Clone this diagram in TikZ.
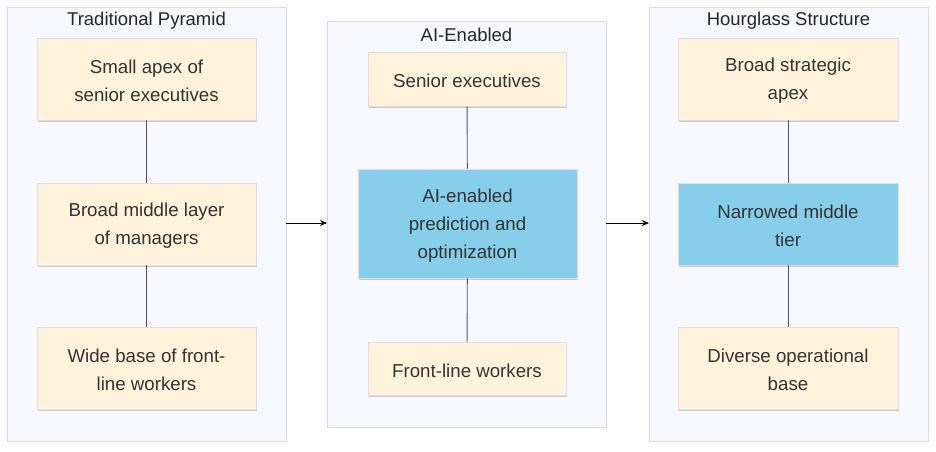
\documentclass[tikz,border=0pt]{standalone}
\usepackage{fontspec}
\setmainfont{Liberation Sans}
\usetikzlibrary{arrows.meta,shadows}
\definecolor{clfill}{HTML}{F7F8FD}
\definecolor{clborder}{HTML}{E2D6EE}
\definecolor{ndfill}{HTML}{FFF3DC}
\definecolor{ndborder}{HTML}{E8D8EC}
\definecolor{bluefill}{HTML}{87CEEB}
\definecolor{txt}{HTML}{333333}
\definecolor{edge}{HTML}{555555}
\tikzset{
  cluster/.style={draw=clborder, fill=clfill, line width=0.8pt},
  boxnode/.style={draw=ndborder, fill=ndfill, line width=0.8pt,
    drop shadow={shadow xshift=1.2pt, shadow yshift=-1.5pt, opacity=0.18, fill=black},
    inner sep=0pt},
  bluenode/.style={boxnode, fill=bluefill},
  boxtext/.style={text=txt, align=center, inner sep=0pt, yshift=-2pt,
    font=\fontsize{18.7}{28}\selectfont},
  title/.style={text=black!85, font=\fontsize{18.5}{20}\selectfont, anchor=center},
  link/.style={draw=edge, line width=0.9pt},
  flow/.style={draw=black, line width=0.9pt, -{Stealth[length=7pt,width=6pt]}},
}
\begin{document}
\begin{tikzpicture}[x=1pt,y=-1pt]
\useasboundingbox (0,0) rectangle (936,451);
% clusters
\path[cluster] (7,7) rectangle (286,441);
\path[cluster] (327,21) rectangle (606,427);
\path[cluster] (649,7) rectangle (928,441);
\node[title] (t1) at (146.5,21) {Traditional Pyramid};
\node[title] (t2) at (466.5,35) {AI-Enabled};
\node[title] (t3) at (788.5,21) {Hourglass Structure};
% anchors for cluster edges
\coordinate (c1r) at (286,223);
\coordinate (c2l) at (327,223);
\coordinate (c2r) at (606,223);
\coordinate (c3l) at (649,223);
% column 1
\node[boxnode, minimum width=219pt, minimum height=82pt] (a1) at (146.5,79) {};
\node[boxnode, minimum width=219pt, minimum height=82pt] (a2) at (146.5,224) {};
\node[boxnode, minimum width=219pt, minimum height=82pt] (a3) at (146.5,368) {};
% column 2
\node[boxnode, minimum width=198pt, minimum height=54pt] (b1) at (467,79) {};
\node[bluenode, minimum width=219pt, minimum height=109pt] (b2) at (467.5,223.5) {};
\node[boxnode, minimum width=198pt, minimum height=53pt] (b3) at (467,368.5) {};
% column 3
\node[boxnode, minimum width=220pt, minimum height=82pt] (c1) at (788,79) {};
\node[bluenode, minimum width=220pt, minimum height=82pt] (c2) at (788,224) {};
\node[boxnode, minimum width=220pt, minimum height=82pt] (c3) at (788,368) {};
% texts
\node[boxtext] (a1t) at (a1.center) {Small apex of\\senior executives};
\node[boxtext] (a2t) at (a2.center) {Broad middle layer\\of managers};
\node[boxtext] (a3t) at (a3.center) {Wide base of front-\\line workers};
\node[boxtext] (b1t) at (b1.center) {Senior executives};
\node[boxtext] (b2t) at (b2.center) {AI-enabled\\prediction and\\optimization};
\node[boxtext] (b3t) at (b3.center) {Front-line workers};
\node[boxtext] (c1t) at (c1.center) {Broad strategic\\apex};
\node[boxtext] (c2t) at (c2.center) {Narrowed middle\\tier};
\node[boxtext] (c3t) at (c3.center) {Diverse operational\\base};
% links
\draw[link] (a1) -- (a2);
\draw[link] (a2) -- (a3);
\draw[link] (b1) -- (b2);
\draw[link] (b2) -- (b3);
\draw[link] (c1) -- (c2);
\draw[link] (c2) -- (c3);
% flows
\draw[flow] (c1r) -- (c2l);
\draw[flow] (c2r) -- (c3l);
\end{tikzpicture}
\end{document}
